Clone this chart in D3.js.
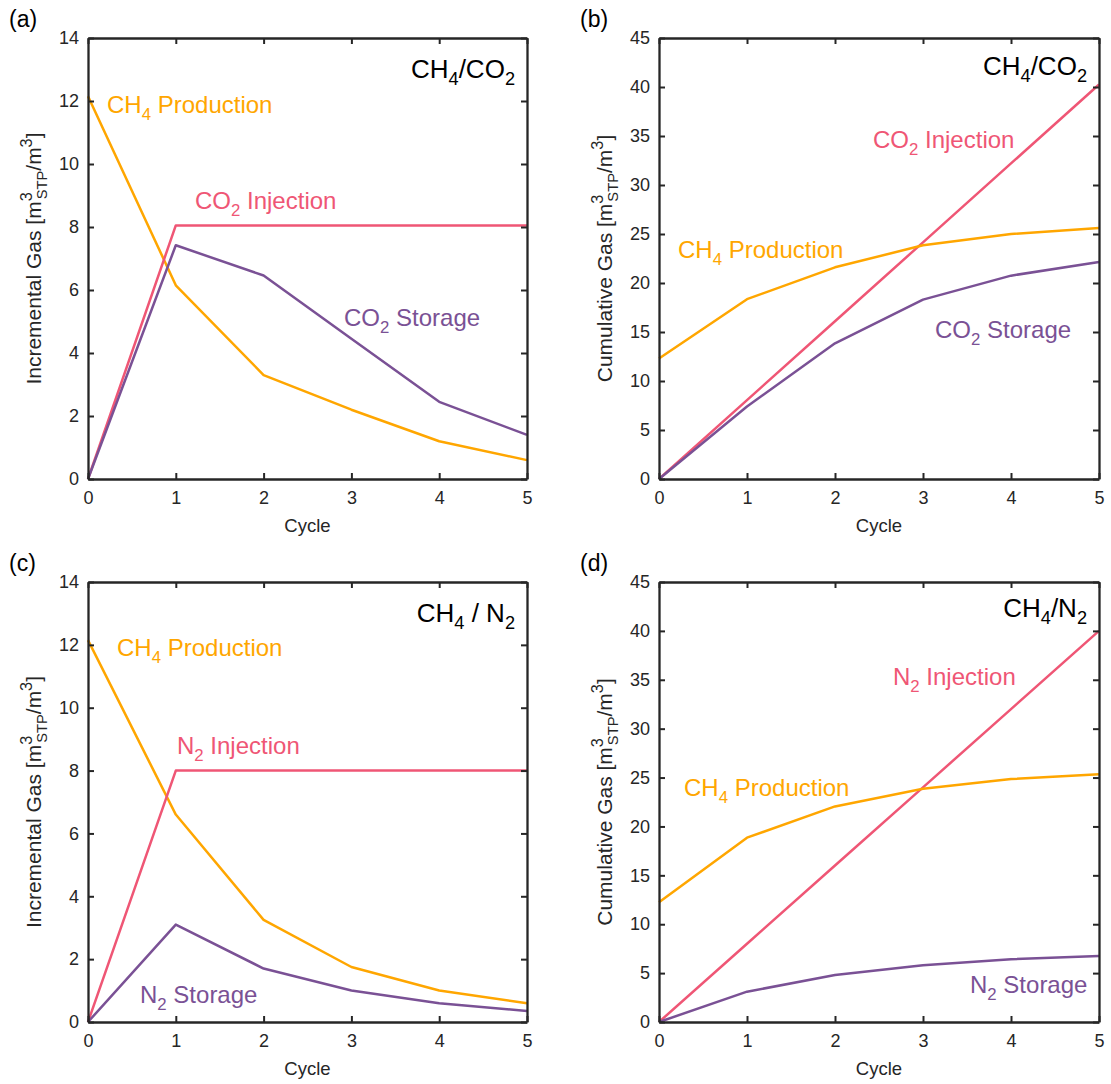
<!DOCTYPE html>
<html>
<head>
<meta charset="utf-8">
<script src="https://cdn.jsdelivr.net/npm/d3@7"></script>
<style>
  body { margin: 0; background: #fff; }
  svg { font-family: "Liberation Sans", Arial, sans-serif; }
</style>
</head>
<body>
<svg id="chart" width="1111" height="1084"></svg>
<script>
// cycle numbers on the x axis
const cycles = [0, 1, 2, 3, 4, 5];

// (a) incremental gas, CH4/CO2
const aProduction = [12.15, 6.15, 3.3, 2.2, 1.2, 0.6];
const aInjection = [0, 8.05, 8.05, 8.05, 8.05, 8.05];
const aStorage = [0, 7.42, 6.46, 4.45, 2.45, 1.4];

// (b) cumulative gas, CH4/CO2
const bProduction = [12.3, 18.35, 21.6, 23.85, 25.0, 25.6];
const bInjection = [0, 8.05, 16.1, 24.15, 32.2, 40.25];
const bStorage = [0, 7.4, 13.85, 18.3, 20.75, 22.15];

// (c) incremental gas, CH4/N2
const cProduction = [12.15, 6.6, 3.25, 1.75, 1.0, 0.6];
const cInjection = [0, 8.0, 8.0, 8.0, 8.0, 8.0];
const cStorage = [0, 3.1, 1.7, 1.0, 0.6, 0.35];

// (d) cumulative gas, CH4/N2
const dProduction = [12.25, 18.85, 22.05, 23.85, 24.85, 25.35];
const dInjection = [0, 8.0, 16.0, 24.0, 32.0, 40.0];
const dStorage = [0, 3.1, 4.8, 5.8, 6.42, 6.75];

const incTicks = [0, 2, 4, 6, 8, 10, 12, 14];
const cumTicks = [0, 5, 10, 15, 20, 25, 30, 35, 40, 45];

const cOrange = "#ffa600", cPink = "#ef5675", cPurple = "#7a5195", ink = "#262626";

const svg = d3.select("#chart");

// write text made of [string, "sub"|"sup"|""] parts
function richText(sel, parts, size) {
  let shift = 0;
  parts.forEach(([s, kind]) => {
    let target = kind == "sub" ? 0.28 * size : kind == "sup" ? -0.4 * size : 0;
    sel.append("tspan")
      .attr("dy", target - shift)
      .attr("font-size", kind ? size * 0.7 : size)
      .text(s);
    shift = target;
  });
  return sel;
}

function drawPanel(p) {
  const g = svg.append("g").attr("transform", `translate(${p.left},${p.top})`);
  const x = d3.scaleLinear().domain([0, 5]).range([0, p.w]);
  const y = d3.scaleLinear().domain([0, p.yMax]).range([p.h, 0]);

  // lines
  const line = d3.line().x((d, i) => x(cycles[i])).y(d => y(d));
  p.series.forEach(s => {
    g.append("path").datum(s.values)
      .attr("fill", "none").attr("stroke", s.color)
      .attr("stroke-width", 2.5).attr("stroke-linejoin", "round")
      .attr("d", line);
  });

  // axes with inward ticks on all sides
  const fmt = d3.format("d");
  const styleAxis = a => {
    a.select(".domain").attr("stroke", ink).attr("stroke-width", 2.3);
    a.selectAll(".tick line").attr("stroke", ink).attr("stroke-width", 2);
    a.selectAll("text").attr("fill", ink).attr("font-size", 18)
      .attr("font-family", "Liberation Sans, Arial, sans-serif");
  };
  g.append("g").attr("transform", `translate(0,${p.h})`)
    .call(d3.axisBottom(x).tickValues(cycles).tickFormat(fmt).tickSizeInner(-6).tickSizeOuter(0).tickPadding(12))
    .call(styleAxis);
  g.append("g")
    .call(d3.axisTop(x).tickValues(cycles).tickFormat("").tickSizeInner(-6).tickSizeOuter(0))
    .call(styleAxis);
  g.append("g")
    .call(d3.axisLeft(y).tickValues(p.yTicks).tickFormat(fmt).tickSizeInner(-6).tickSizeOuter(0).tickPadding(9))
    .call(styleAxis);
  g.append("g").attr("transform", `translate(${p.w},0)`)
    .call(d3.axisRight(y).tickValues(p.yTicks).tickFormat("").tickSizeInner(-6).tickSizeOuter(0))
    .call(styleAxis);

  // axis titles
  const fs = 21;
  g.append("text").attr("x", p.w / 2).attr("y", p.h + 53)
    .attr("text-anchor", "middle").attr("fill", ink).attr("font-size", 18.5).text("Cycle");
  const yt = g.append("text")
    .attr("transform", `translate(-47,${p.h / 2}) rotate(-90)`)
    .attr("text-anchor", "middle").attr("fill", ink);
  yt.append("tspan").attr("font-size", fs).text(p.yTitle);
  yt.append("tspan").attr("dy", -0.42 * fs).attr("font-size", fs * 0.78).text("3");
  yt.append("tspan").attr("dx", -0.43 * fs * 0.78).attr("dy", 0.72 * fs).attr("font-size", fs * 0.7).text("STP");
  yt.append("tspan").attr("dy", -0.3 * fs).attr("font-size", fs).text("/m");
  yt.append("tspan").attr("dy", -0.42 * fs).attr("font-size", fs * 0.78).text("3");
  yt.append("tspan").attr("dy", 0.42 * fs).attr("font-size", fs).text("]");

  // panel letter and system name
  svg.append("text").attr("x", p.left - 79).attr("y", p.top - 11)
    .attr("font-size", 23).attr("fill", "#000").text(p.letter);
  richText(g.append("text").attr("x", p.w - 12).attr("y", p.sysY)
    .attr("text-anchor", "end").attr("fill", "#000"), p.system, 26);

  // series labels
  p.series.forEach(s => {
    richText(g.append("text").attr("x", s.lx).attr("y", s.ly).attr("fill", s.color), s.label, 24);
  });
}

const co2 = [["CO", ""], ["2", "sub"]];
const n2 = [["N", ""], ["2", "sub"]];
const ch4 = [["CH", ""], ["4", "sub"]];

drawPanel({
  letter: "(a)", left: 88, top: 38, w: 439, h: 441, yMax: 14, yTicks: incTicks,
  yTitle: "Incremental Gas [m", sysY: 40,
  system: [["CH", ""], ["4", "sub"], ["/CO", ""], ["2", "sub"]],
  series: [
    { values: aProduction, color: cOrange, label: ch4.concat([[" Production", ""]]), lx: 19, ly: 75 },
    { values: aInjection, color: cPink, label: co2.concat([[" Injection", ""]]), lx: 107, ly: 171 },
    { values: aStorage, color: cPurple, label: co2.concat([[" Storage", ""]]), lx: 256, ly: 288 }
  ]
});

drawPanel({
  letter: "(b)", left: 659, top: 38, w: 440, h: 441, yMax: 45, yTicks: cumTicks,
  yTitle: "Cumulative Gas [m", sysY: 37,
  system: [["CH", ""], ["4", "sub"], ["/CO", ""], ["2", "sub"]],
  series: [
    { values: bInjection, color: cPink, label: co2.concat([[" Injection", ""]]), lx: 214, ly: 110 },
    { values: bProduction, color: cOrange, label: ch4.concat([[" Production", ""]]), lx: 19, ly: 220 },
    { values: bStorage, color: cPurple, label: co2.concat([[" Storage", ""]]), lx: 276, ly: 300 }
  ]
});

drawPanel({
  letter: "(c)", left: 88, top: 582, w: 439, h: 440, yMax: 14, yTicks: incTicks,
  yTitle: "Incremental Gas [m", sysY: 40,
  system: [["CH", ""], ["4", "sub"], [" / N", ""], ["2", "sub"]],
  series: [
    { values: cProduction, color: cOrange, label: ch4.concat([[" Production", ""]]), lx: 29, ly: 74 },
    { values: cInjection, color: cPink, label: n2.concat([[" Injection", ""]]), lx: 89, ly: 172 },
    { values: cStorage, color: cPurple, label: n2.concat([[" Storage", ""]]), lx: 52, ly: 421 }
  ]
});

drawPanel({
  letter: "(d)", left: 659, top: 582, w: 440, h: 440, yMax: 45, yTicks: cumTicks,
  yTitle: "Cumulative Gas [m", sysY: 35,
  system: [["CH", ""], ["4", "sub"], ["/N", ""], ["2", "sub"]],
  series: [
    { values: dInjection, color: cPink, label: n2.concat([[" Injection", ""]]), lx: 234, ly: 103 },
    { values: dProduction, color: cOrange, label: ch4.concat([[" Production", ""]]), lx: 25, ly: 214 },
    { values: dStorage, color: cPurple, label: n2.concat([[" Storage", ""]]), lx: 311, ly: 411 }
  ]
});
</script>
</body>
</html>
